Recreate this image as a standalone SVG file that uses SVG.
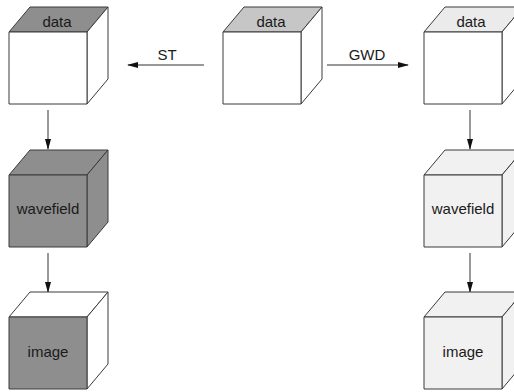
<svg xmlns="http://www.w3.org/2000/svg" width="514" height="392" viewBox="0 0 514 392">
<defs>
<style>
.f{stroke:#3a3a3a;stroke-width:1;stroke-linejoin:round}
.t{font-family:"Liberation Sans",Arial,sans-serif;font-size:15px;fill:#1a1a1a;text-anchor:middle}
.c{stroke:#333;stroke-width:1;fill:none}
.w{fill:#ffffff}.d{fill:#8e8e8e}.m{fill:#c6c6c6}.l{fill:#f1f1f1}.l2{fill:#ebebeb}
</style>
<marker id="ah" markerWidth="11" markerHeight="6" refX="10" refY="3" orient="auto" markerUnits="userSpaceOnUse">
<path d="M0,0 L11,3 L0,6 Z" fill="#111"/>
</marker>
</defs>
<rect width="514" height="392" fill="#fff"/>
<g id="connectors">
<line class="c" x1="204" y1="65" x2="128" y2="65" marker-end="url(#ah)"/>
<text class="t" x="167" y="60">ST</text>
<line class="c" x1="327" y1="65" x2="408" y2="65" marker-end="url(#ah)"/>
<text class="t" x="367" y="60">GWD</text>
<line class="c" x1="48" y1="110" x2="48" y2="149" marker-end="url(#ah)"/>
<line class="c" x1="48" y1="253" x2="48" y2="292" marker-end="url(#ah)"/>
<line class="c" x1="470" y1="110" x2="470" y2="149" marker-end="url(#ah)"/>
<line class="c" x1="470" y1="253" x2="470" y2="292" marker-end="url(#ah)"/>
</g>
<g id="st-data">
<path class="f d" d="M9,32 L30,7 L108,7 L87,32 Z"/>
<path class="f w" d="M87,32 L108,7 L108,79 L87,104 Z"/>
<rect class="f w" x="9" y="32" width="78" height="72"/>
<text class="t" x="57" y="27">data</text>
</g>
<g id="st-wavefield">
<path class="f d" d="M9,175 L30,150 L108,150 L87,175 Z"/>
<path class="f d" d="M87,175 L108,150 L108,222 L87,247 Z"/>
<rect class="f d" x="9" y="175" width="78" height="72"/>
<text class="t" x="48" y="214">wavefield</text>
</g>
<g id="st-image">
<path class="f w" d="M9,317 L30,292 L108,292 L87,317 Z"/>
<path class="f w" d="M87,317 L108,292 L108,364 L87,389 Z"/>
<rect class="f d" x="9" y="317" width="78" height="72"/>
<text class="t" x="48" y="357">image</text>
</g>
<g id="center-data">
<path class="f m" d="M223,32 L244,7 L322,7 L301,32 Z"/>
<path class="f w" d="M301,32 L322,7 L322,79 L301,104 Z"/>
<rect class="f w" x="223" y="32" width="78" height="72"/>
<text class="t" x="271" y="27">data</text>
</g>
<g id="gwd-data">
<path class="f l2" d="M424,32 L445,7 L523,7 L502,32 Z"/>
<path class="f w" d="M502,32 L523,7 L523,79 L502,104 Z"/>
<rect class="f w" x="424" y="32" width="78" height="72"/>
<text class="t" x="471" y="27">data</text>
</g>
<g id="gwd-wavefield">
<path class="f l" d="M424,175 L445,150 L523,150 L502,175 Z"/>
<path class="f l" d="M502,175 L523,150 L523,222 L502,247 Z"/>
<rect class="f l" x="424" y="175" width="78" height="72"/>
<text class="t" x="463" y="214">wavefield</text>
</g>
<g id="gwd-image">
<path class="f l" d="M424,317 L445,292 L523,292 L502,317 Z"/>
<path class="f l" d="M502,317 L523,292 L523,364 L502,389 Z"/>
<rect class="f l" x="424" y="317" width="78" height="72"/>
<text class="t" x="463" y="357">image</text>
</g>
</svg>
